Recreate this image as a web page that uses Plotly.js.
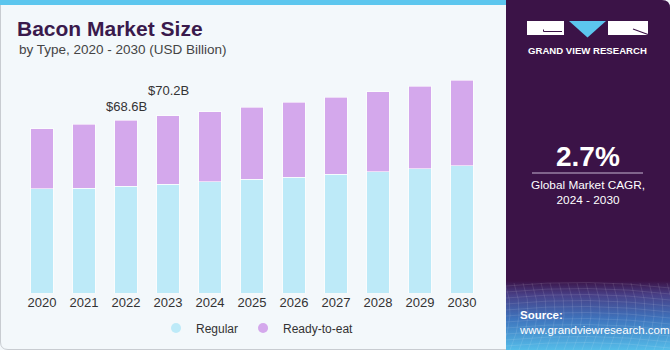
<!DOCTYPE html>
<html>
<head>
<meta charset="utf-8">
<script src="https://cdn.plot.ly/plotly-3.0.1.min.js"></script>
<style>
html,body{margin:0;padding:0;background:#f3f8fb;}
#chart{width:670px;height:350px;}
</style>
</head>
<body>
<div id="chart"></div>
<script>
// ---- data ----
var years = ['2020','2021','2022','2023','2024','2025','2026','2027','2028','2029','2030'];
var regular = [41.3, 41.6, 42.4, 43.1, 44.1, 45.1, 46.0, 47.1, 48.1, 49.3, 50.5];
var readyToEat = [23.9, 25.4, 26.2, 27.1, 27.8, 28.5, 29.6, 30.5, 31.6, 32.6, 33.8];
var seriesNames = ['Regular', 'Ready-to-eat'];
var labelYears = ['2022', '2023'];
var cagrText = '2.7%';
var cagrLabel = 'Global Market CAGR,<br>2024 - 2030';

// ---- helpers (pixel -> paper) ----
var W = 670, H = 350;
function px(x){ return x / W; }
function py(y){ return 1 - y / H; }

var colReg = '#bdeaf8';
var colRte = '#d4a8ec';
var FONT = 'Arial, Liberation Sans, sans-serif';

var traces = [
  {type:'bar', x:years, y:regular, name:seriesNames[0], showlegend:false,
   marker:{color:colReg, line:{color:'rgba(255,255,255,0.6)', width:1}}, hoverinfo:'x+y'},
  {type:'bar', x:years, y:readyToEat, name:seriesNames[1], showlegend:false,
   marker:{color:colRte, line:{color:'rgba(255,255,255,0.6)', width:1}}, hoverinfo:'x+y'},
  {type:'scatter', mode:'markers', x:[null], y:[null], name:seriesNames[0],
   marker:{symbol:'circle', size:10, color:colReg}},
  {type:'scatter', mode:'markers', x:[null], y:[null], name:seriesNames[1],
   marker:{symbol:'circle', size:10, color:colRte}}
];

// value labels
var annotations = [];
var shifts = {'2022': 14, '2023': 25};
labelYears.forEach(function(yr){
  var i = years.indexOf(yr);
  var tot = regular[i] + readyToEat[i];
  annotations.push({x:i, y:tot, xref:'x', yref:'y', text:'$' + tot.toFixed(1) + 'B',
    showarrow:false, xanchor:'center', yanchor:'middle', yshift:shifts[yr],
    font:{family:FONT, size:13, color:'#333333'}});
});

// subtitle
annotations.push({xref:'paper', yref:'paper', x:px(17), y:py(50), xanchor:'left', yanchor:'middle',
  text:'by Type, 2020 - 2030 (USD Billion)', showarrow:false,
  font:{family:FONT, size:13.5, color:'#444444'}});

// right panel texts
annotations.push({xref:'paper', yref:'paper', x:px(587.5), y:py(51), xanchor:'center', yanchor:'middle',
  text:'<b>GRAND VIEW RESEARCH</b>', showarrow:false,
  font:{family:FONT, size:9.6, color:'#ffffff'}});
annotations.push({xref:'paper', yref:'paper', x:px(587.5), y:py(156), xanchor:'center', yanchor:'middle',
  text:'<b>' + cagrText + '</b>', showarrow:false,
  font:{family:FONT, size:28, color:'#ffffff'}});
annotations.push({xref:'paper', yref:'paper', x:px(587.5), y:py(193), xanchor:'center', yanchor:'middle',
  text:cagrLabel, showarrow:false,
  font:{family:FONT, size:11.8, color:'#ffffff'}});
annotations.push({xref:'paper', yref:'paper', x:px(517), y:py(322), xanchor:'left', yanchor:'middle',
  text:'<b>Source:</b><br>www.grandviewresearch.com', showarrow:false, align:'left',
  font:{family:FONT, size:11.5, color:'#ffffff'}});

// panel image (svg background with gradient)
var svg = '<svg xmlns="http://www.w3.org/2000/svg" width="164" height="350" viewBox="0 0 164 350" preserveAspectRatio="none">' +
  '<defs><linearGradient id="g" x1="0" y1="0" x2="0" y2="1">' +
  '<stop offset="0" stop-color="#3b1347"/>' +
  '<stop offset="0.2" stop-color="#483f86"/>' +
  '<stop offset="0.55" stop-color="#3e74bd"/>' +
  '<stop offset="1" stop-color="#55bde9"/>' +
  '</linearGradient></defs>' +
  '<path d="M0,0 L156,0 Q164,0 164,8 L164,350 L0,350 Z" fill="#3b1347"/>' +
  '<rect x="0" y="281" width="164" height="69" fill="url(#g)"/>';
var grid = '';
for (var gx = -10; gx < 180; gx += 9) {
  grid += '<path d="M' + gx + ',283 Q' + (gx + 12) + ',315 ' + (gx - 4) + ',350" stroke="#ffffff" stroke-opacity="0.13" fill="none" stroke-width="0.8"/>';
}
for (var gy = 286; gy < 350; gy += 6) {
  grid += '<path d="M0,' + gy + ' Q82,' + (gy - 8) + ' 164,' + (gy + 2) + '" stroke="#ffffff" stroke-opacity="0.13" fill="none" stroke-width="0.8"/>';
}
svg += grid + '</svg>';

var images = [{
  source:'data:image/svg+xml;utf8,' + encodeURIComponent(svg),
  xref:'paper', yref:'paper', x:px(506), y:1, sizex:164/W, sizey:1,
  xanchor:'left', yanchor:'top', sizing:'stretch', layer:'above'
}];

var shapes = [
  // card border
  {type:'path', xref:'paper', yref:'paper', layer:'below',
   path:'M' + px(0.5) + ',' + py(3) + ' L' + px(0.5) + ',' + py(342) + ' Q' + px(0.5) + ',' + py(349.5) + ' ' + px(8) + ',' + py(349.5) + ' L' + px(506) + ',' + py(349.5),
   line:{color:'#c8ccd1', width:1}, fillcolor:'rgba(0,0,0,0)'},
  // top cyan strip
  {type:'rect', xref:'paper', yref:'paper', x0:px(0), x1:px(506), y0:py(5), y1:py(0),
   fillcolor:'#5cc6ee', line:{width:0}, layer:'above'},
  // logo: left box
  {type:'rect', xref:'paper', yref:'paper', x0:px(527), x1:px(564), y0:py(35), y1:py(21),
   fillcolor:'#ffffff', line:{width:0}, layer:'above'},
  {type:'path', xref:'paper', yref:'paper', layer:'above',
   path:'M' + px(543.5) + ',' + py(29.5) + ' L' + px(543.5) + ',' + py(31.5) + ' L' + px(562) + ',' + py(31.5),
   line:{color:'#3b1347', width:1}},
  // logo: triangle
  {type:'path', xref:'paper', yref:'paper', layer:'above',
   path:'M' + px(569) + ',' + py(21) + ' L' + px(606) + ',' + py(21) + ' L' + px(587.5) + ',' + py(37.5) + ' Z',
   fillcolor:'#5cc6ee', line:{width:0}},
  // logo: right box
  {type:'rect', xref:'paper', yref:'paper', x0:px(608), x1:px(648), y0:py(35), y1:py(21),
   fillcolor:'#ffffff', line:{width:0}, layer:'above'},
  {type:'path', xref:'paper', yref:'paper', layer:'above',
   path:'M' + px(633) + ',' + py(29) + ' L' + px(648) + ',' + py(34.5),
   line:{color:'#3b1347', width:1.2}},
  // CAGR separator line
  {type:'line', xref:'paper', yref:'paper', x0:px(532), x1:px(643), y0:py(173), y1:py(173),
   line:{color:'#c6b6d2', width:1}, layer:'above'}
];

var layout = {
  width:W, height:H, autosize:false,
  margin:{l:0, r:0, t:0, b:0, pad:0},
  paper_bgcolor:'#f3f8fb', plot_bgcolor:'rgba(0,0,0,0)',
  title:{text:'<b>Bacon Market Size</b>', x:px(17), xanchor:'left', y:py(29), yanchor:'middle',
         font:{family:FONT, size:21, color:'#3a1a4c'}},
  barmode:'stack', bargap:0.46,
  xaxis:{type:'category', domain:[px(21), px(483)], range:[-0.5, 10.5],
         showgrid:false, zeroline:false, showline:false, ticks:'', fixedrange:true,
         tickfont:{family:FONT, size:13, color:'#333333'}},
  yaxis:{domain:[py(293.3), py(60)], range:[0, 233.3/2.526], visible:false, fixedrange:true,
         showgrid:false, zeroline:false},
  showlegend:true,
  legend:{orientation:'h', x:px(156), xanchor:'left', y:py(328), yanchor:'middle',
          bgcolor:'rgba(0,0,0,0)', traceorder:'normal', itemwidth:30,
          font:{family:FONT, size:12, color:'#333333'}},
  annotations:annotations, shapes:shapes, images:images
};

Plotly.newPlot('chart', traces, layout, {displayModeBar:false, staticPlot:true});
</script>
</body>
</html>
